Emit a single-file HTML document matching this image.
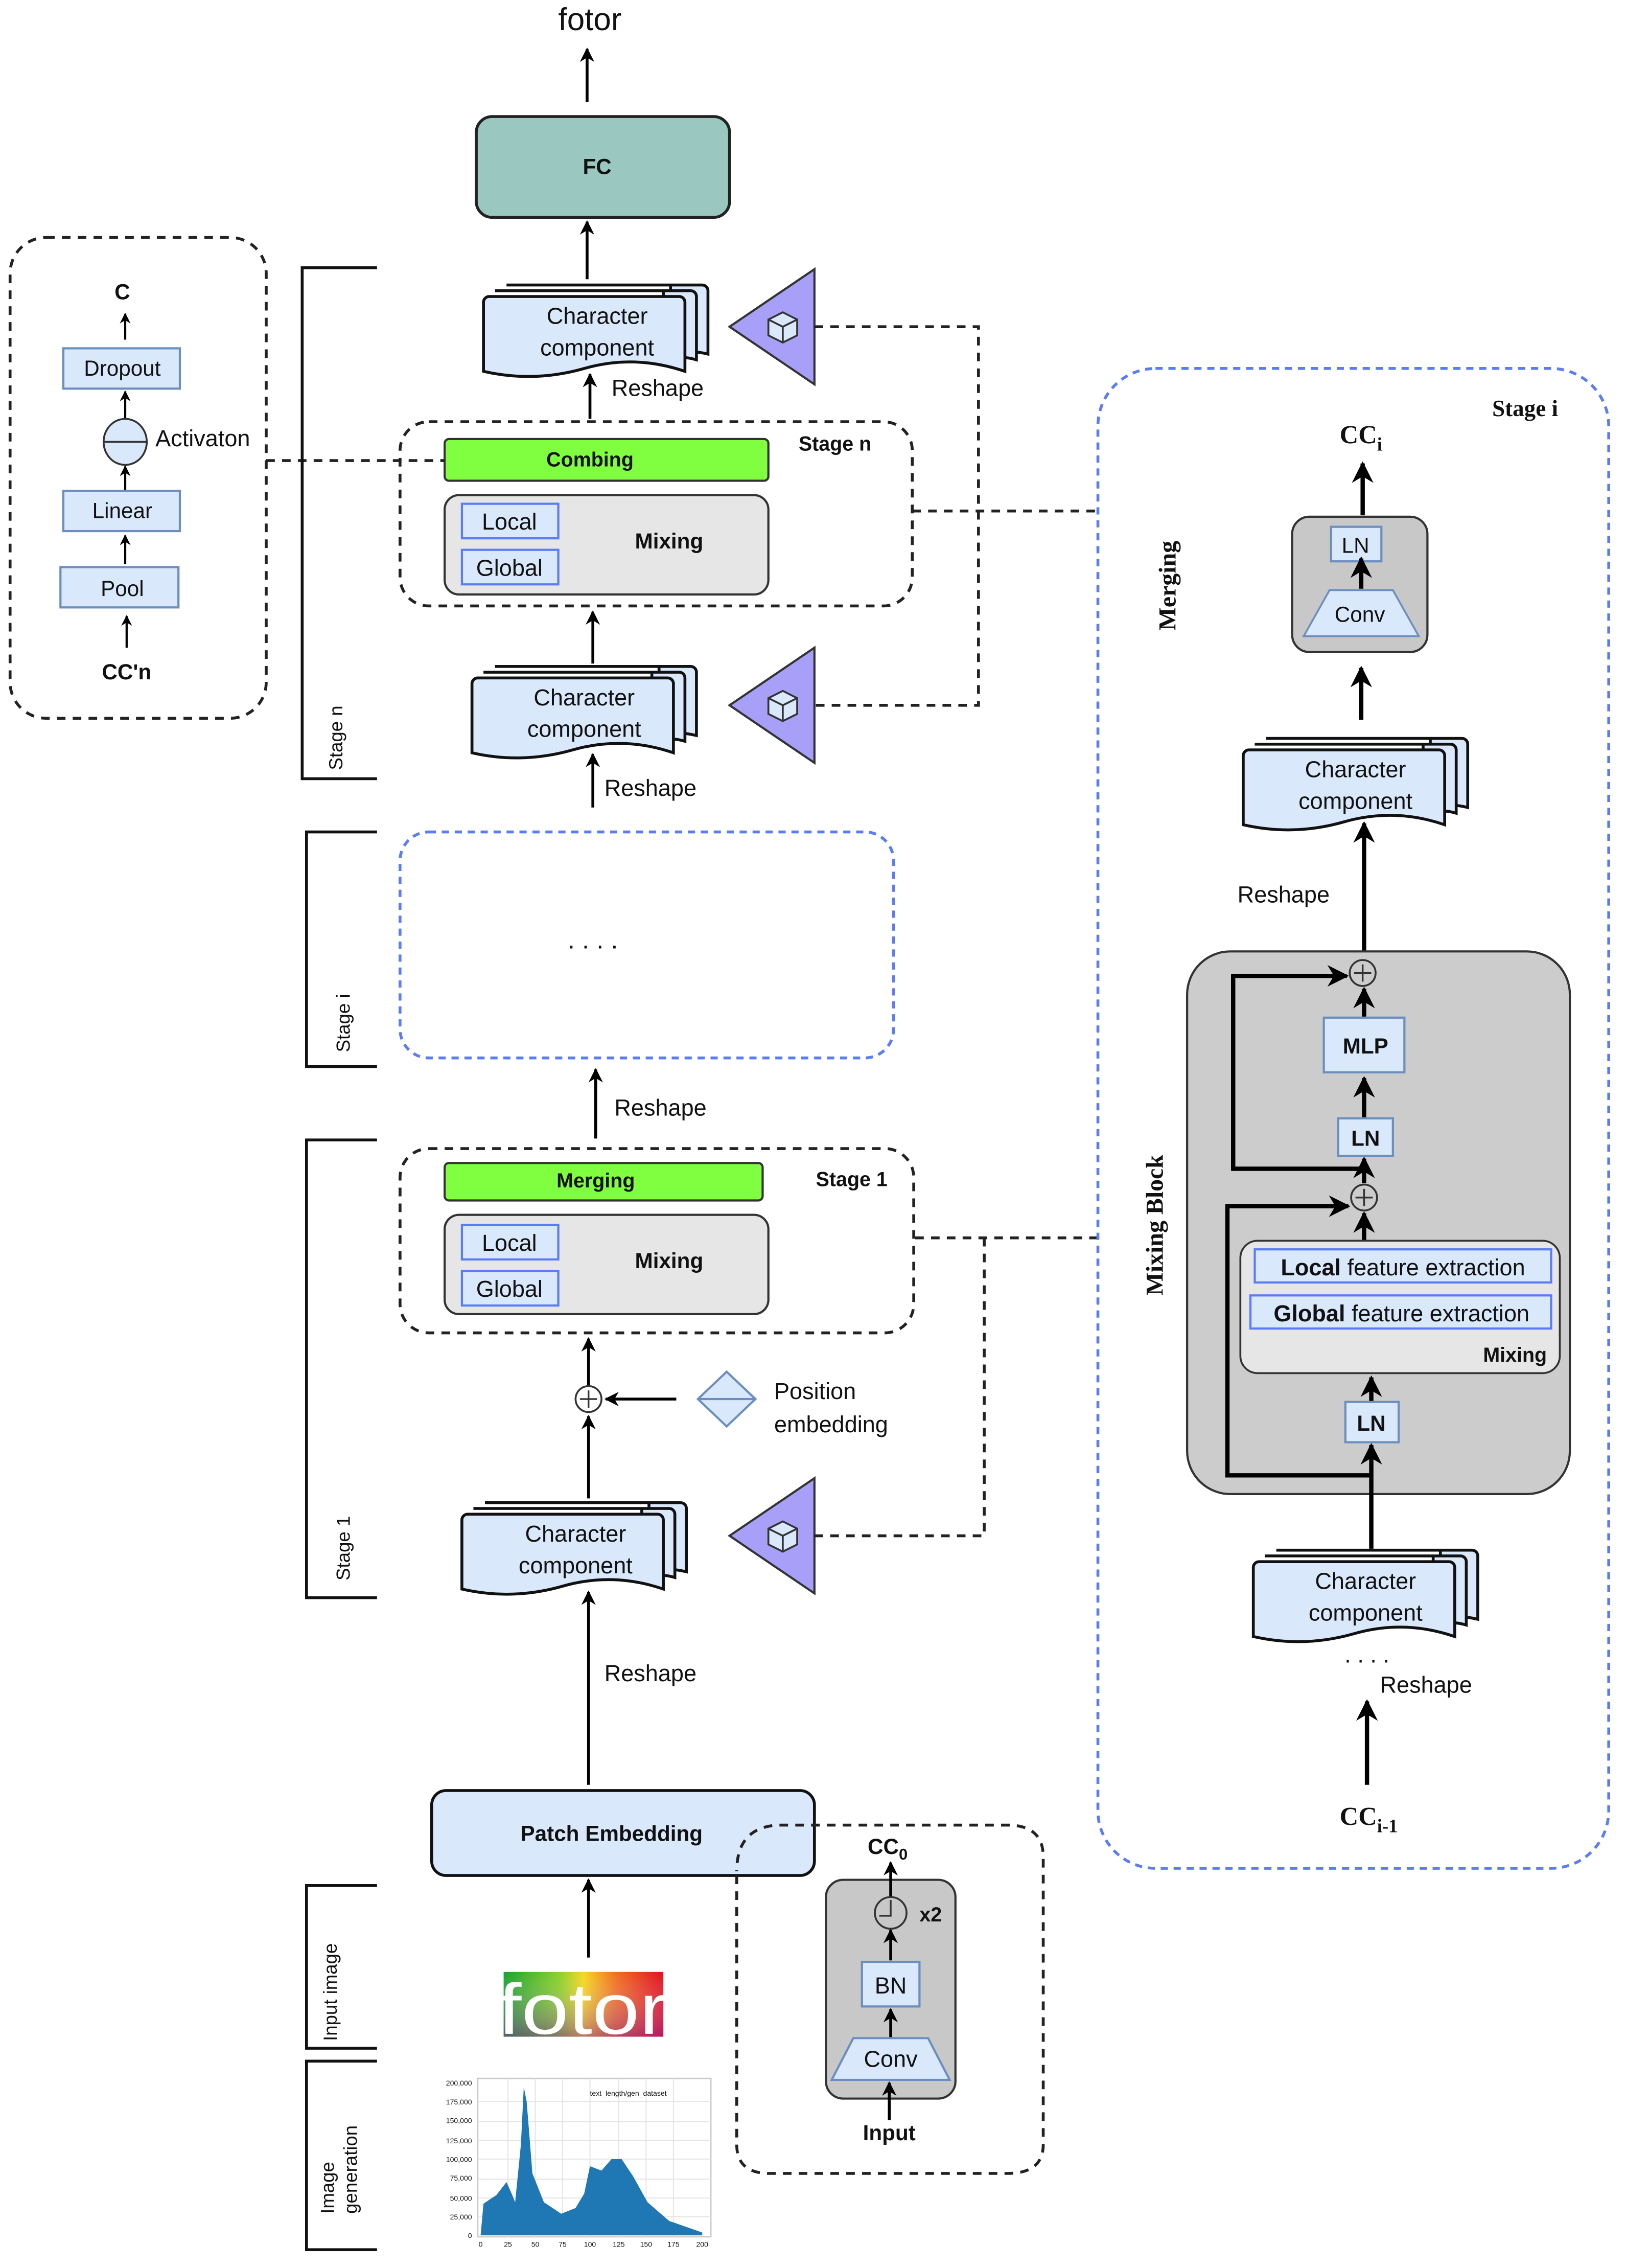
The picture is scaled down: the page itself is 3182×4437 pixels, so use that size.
<!DOCTYPE html>
<html><head><meta charset="utf-8"><style>
html,body{margin:0;padding:0;background:#fff}
svg{display:block}
text{font-family:"Liberation Sans",sans-serif;fill:#111}
.serif{font-family:"Liberation Serif",serif;font-weight:bold}
.b{font-weight:bold}
</style></head><body>
<svg width="3182" height="4437" viewBox="0 0 1130 1575.7" xmlns="http://www.w3.org/2000/svg">
<defs>
<marker id="ah" viewBox="0 0 10 10" refX="9" refY="5" markerWidth="5" markerHeight="5" orient="auto"><path d="M0,0 L10,5 L0,10 L3,5 Z" fill="#000"/></marker>
<g id="doc">
 <path d="M16,-8 H152 a4,4 0 0 1 4,4 V40 Q140,36 130,42 V-8 Z" fill="#dae8fc" stroke="#111" stroke-width="2"/>
 <path d="M8,-4 H144 a4,4 0 0 1 4,4 V44 Q135,40 125,46 V-4 Z" fill="#dae8fc" stroke="#111" stroke-width="2"/>
 <path d="M4,0 H136 a4,4 0 0 1 4,4 V52 Q105,40 70,50 T0,52 V4 a4,4 0 0 1 4,-4 Z" fill="#dae8fc" stroke="#111" stroke-width="2"/>
</g>
<g id="tri">
 <polygon points="0,0 59,-40 59,40" fill="#a8a0f8" stroke="#333" stroke-width="1.5"/>
 <polygon points="36,-7 46,-12 56,-7 56,4 46,9 36,4" fill="#dae8fc" stroke="#333" stroke-width="1.3" transform="translate(-9,2)"/>
 <path d="M27,-5 L37,0 L47,-5 M37,0 V11" fill="none" stroke="#333" stroke-width="1.3"/>
</g>
<linearGradient id="rb" x1="0" y1="0" x2="1" y2="0">
 <stop offset="0" stop-color="#1aa030"/><stop offset="0.35" stop-color="#8ad02a"/><stop offset="0.5" stop-color="#f5d820"/><stop offset="0.7" stop-color="#f07020"/><stop offset="1" stop-color="#e01020"/>
</linearGradient>
<linearGradient id="rb2" x1="0" y1="0" x2="0" y2="1">
 <stop offset="0" stop-color="#fff" stop-opacity="0"/><stop offset="1" stop-color="#8020a0" stop-opacity="0.5"/>
</linearGradient>
</defs>

<!-- top -->
<text x="410" y="21" font-size="22" text-anchor="middle">fotor</text>
<line x1="408" y1="71" x2="408" y2="34" stroke="#000" stroke-width="2" marker-end="url(#ah)"/>
<rect x="331" y="81" width="176" height="70" rx="11" fill="#9ac7bf" stroke="#222" stroke-width="2"/>
<text x="415" y="121" font-size="15" class="b" text-anchor="middle">FC</text>
<line x1="408" y1="194" x2="408" y2="154" stroke="#000" stroke-width="2" marker-end="url(#ah)"/>

<!-- char comp top -->
<use href="#doc" x="336" y="206"/>
<text x="415" y="225" font-size="16" text-anchor="middle">Character</text>
<text x="415" y="247" font-size="16" text-anchor="middle">component</text>
<use href="#tri" x="507" y="227"/>
<path d="M566,227 H680 V490 H566" fill="none" stroke="#222" stroke-width="2" stroke-dasharray="6,5"/>
<line x1="410" y1="291" x2="410" y2="260" stroke="#000" stroke-width="2" marker-end="url(#ah)"/>
<text x="425" y="275" font-size="16">Reshape</text>

<!-- stage n -->
<rect x="278" y="293" width="356" height="128" rx="20" fill="none" stroke="#222" stroke-width="2" stroke-dasharray="6,5"/>
<text x="555" y="313" font-size="14" class="b">Stage n</text>
<rect x="309" y="305" width="225" height="29" rx="3" fill="#80ff40" stroke="#333" stroke-width="1.5"/>
<text x="410" y="324" font-size="14" class="b" text-anchor="middle">Combing</text>
<rect x="309" y="344" width="225" height="69" rx="10" fill="#e6e6e6" stroke="#333" stroke-width="1.5"/>
<rect x="321" y="350" width="67" height="24" fill="#dae8fc" stroke="#5b7cf5" stroke-width="1.5"/>
<text x="354" y="368" font-size="16" text-anchor="middle">Local</text>
<rect x="321" y="382" width="67" height="24" fill="#dae8fc" stroke="#5b7cf5" stroke-width="1.5"/>
<text x="354" y="400" font-size="16" text-anchor="middle">Global</text>
<text x="465" y="381" font-size="15" class="b" text-anchor="middle">Mixing</text>
<path d="M185,320 H309" stroke="#222" stroke-width="2" stroke-dasharray="6,5"/>
<path d="M634,355 H765" stroke="#222" stroke-width="2" stroke-dasharray="6,5"/>

<line x1="412" y1="461" x2="412" y2="425" stroke="#000" stroke-width="2" marker-end="url(#ah)"/>
<use href="#doc" x="328" y="471"/>
<text x="406" y="490" font-size="16" text-anchor="middle">Character</text>
<text x="406" y="512" font-size="16" text-anchor="middle">component</text>
<use href="#tri" x="507" y="490"/>
<line x1="412" y1="561" x2="412" y2="524" stroke="#000" stroke-width="2" marker-end="url(#ah)"/>
<text x="420" y="553" font-size="16">Reshape</text>

<!-- brackets -->
<g fill="none" stroke="#111" stroke-width="2">
<path d="M262,186 H210 V541 H262"/>
<path d="M262,578 H213 V741 H262"/>
<path d="M262,792 H213 V1110 H262"/>
<path d="M262,1310 H213 V1423 H262"/>
<path d="M262,1432 H213 V1563 H262"/>
</g>
<text transform="translate(238,535) rotate(-90)" font-size="13">Stage n</text>
<text transform="translate(243,731) rotate(-90)" font-size="13">Stage i</text>
<text transform="translate(243,1098) rotate(-90)" font-size="13">Stage 1</text>
<text transform="translate(234,1418) rotate(-90)" font-size="13">Input image</text>
<text transform="translate(232,1538) rotate(-90)" font-size="13">Image</text>
<text transform="translate(248,1538) rotate(-90)" font-size="13">generation</text>

<!-- stage i -->
<rect x="278" y="578" width="343" height="157" rx="20" fill="none" stroke="#5b7cf5" stroke-width="2" stroke-dasharray="5,4"/>
<text x="412" y="659" font-size="18" text-anchor="middle">. . . .</text>
<line x1="414" y1="791" x2="414" y2="743" stroke="#000" stroke-width="2" marker-end="url(#ah)"/>
<text x="427" y="775" font-size="16">Reshape</text>

<!-- stage 1 -->
<rect x="278" y="798" width="357" height="128" rx="20" fill="none" stroke="#222" stroke-width="2" stroke-dasharray="6,5"/>
<text x="567" y="824" font-size="14" class="b">Stage 1</text>
<rect x="309" y="808" width="221" height="26" rx="3" fill="#80ff40" stroke="#333" stroke-width="1.5"/>
<text x="414" y="825" font-size="14" class="b" text-anchor="middle">Merging</text>
<rect x="309" y="844" width="225" height="69" rx="10" fill="#e6e6e6" stroke="#333" stroke-width="1.5"/>
<rect x="321" y="851" width="67" height="24" fill="#dae8fc" stroke="#5b7cf5" stroke-width="1.5"/>
<text x="354" y="869" font-size="16" text-anchor="middle">Local</text>
<rect x="321" y="883" width="67" height="24" fill="#dae8fc" stroke="#5b7cf5" stroke-width="1.5"/>
<text x="354" y="901" font-size="16" text-anchor="middle">Global</text>
<text x="465" y="881" font-size="15" class="b" text-anchor="middle">Mixing</text>
<path d="M636,860 H765" stroke="#222" stroke-width="2" stroke-dasharray="6,5"/>

<line x1="409" y1="963" x2="409" y2="930" stroke="#000" stroke-width="2" marker-end="url(#ah)"/>
<circle cx="409" cy="972" r="9" fill="#fff" stroke="#333" stroke-width="1.3"/>
<path d="M403,972 H415 M409,966 V978" stroke="#333" stroke-width="1.2"/>
<line x1="409" y1="1041" x2="409" y2="984" stroke="#000" stroke-width="2" marker-end="url(#ah)"/>
<line x1="470" y1="972" x2="421" y2="972" stroke="#000" stroke-width="2" marker-end="url(#ah)"/>
<polygon points="485,972 505,953 525,972 505,991" fill="#dae8fc" stroke="#6c8ebf" stroke-width="1.5"/>
<line x1="485" y1="972" x2="525" y2="972" stroke="#6c8ebf" stroke-width="1.5"/>
<text x="538" y="972" font-size="16">Position</text>
<text x="538" y="995" font-size="16">embedding</text>

<use href="#doc" x="321" y="1052"/>
<text x="400" y="1071" font-size="16" text-anchor="middle">Character</text>
<text x="400" y="1093" font-size="16" text-anchor="middle">component</text>
<use href="#tri" x="507" y="1067"/>
<path d="M566,1067 H684 V860" fill="none" stroke="#222" stroke-width="2" stroke-dasharray="6,5"/>
<line x1="409" y1="1240" x2="409" y2="1106" stroke="#000" stroke-width="2" marker-end="url(#ah)"/>
<text x="420" y="1168" font-size="16">Reshape</text>

<!-- patch embedding -->
<rect x="300" y="1244" width="266" height="59" rx="10" fill="#dae8fc" stroke="#111" stroke-width="2"/>
<text x="425" y="1279" font-size="15" class="b" text-anchor="middle">Patch Embedding</text>
<line x1="409" y1="1360" x2="409" y2="1306" stroke="#000" stroke-width="2" marker-end="url(#ah)"/>
<rect x="350" y="1370" width="111" height="45" fill="url(#rb)"/>
<rect x="350" y="1370" width="111" height="45" fill="url(#rb2)"/>
<text x="405" y="1413" font-size="50" text-anchor="middle" style="fill:#fff" textLength="118" lengthAdjust="spacingAndGlyphs">fotor</text>

<!-- histogram -->
<rect x="332" y="1444" width="162" height="110" fill="#fff" stroke="#ccc" stroke-width="1"/>
<g stroke="#e4e4e4" stroke-width="0.7">
<path d="M353,1444V1554M372,1444V1554M391,1444V1554M410,1444V1554M430,1444V1554M449,1444V1554M468,1444V1554"/>
<path d="M332,1460H494M332,1474H494M332,1487H494M332,1500H494M332,1514H494M332,1527H494M332,1540H494"/>
</g>
<path d="M334,1553 L336,1531 L345,1525 L352,1516 L356,1525 L358,1530 L362,1490 L364,1450 L366,1460 L370,1510 L378,1530 L390,1538 L400,1534 L406,1524 L410,1505 L418,1508 L425,1500 L432,1500 L440,1512 L450,1530 L465,1543 L488,1551 L488,1553 Z" fill="#1f77b4"/>
<g font-size="5" text-anchor="end">
<text x="328" y="1449">200,000</text><text x="328" y="1462">175,000</text><text x="328" y="1475">150,000</text><text x="328" y="1489">125,000</text><text x="328" y="1502">100,000</text><text x="328" y="1515">75,000</text><text x="328" y="1529">50,000</text><text x="328" y="1542">25,000</text><text x="328" y="1555">0</text>
</g>
<g font-size="5" text-anchor="middle">
<text x="334" y="1561">0</text><text x="353" y="1561">25</text><text x="372" y="1561">50</text><text x="391" y="1561">75</text><text x="410" y="1561">100</text><text x="430" y="1561">125</text><text x="449" y="1561">150</text><text x="468" y="1561">175</text><text x="488" y="1561">200</text>
</g>
<text x="410" y="1456" font-size="5">text_length/gen_dataset</text>

<!-- CC0 dashed box -->
<path d="M512,1303 V1490 Q512,1510 535,1510 H700 Q725,1510 725,1490 V1290 Q725,1268 700,1268 H540 Q512,1270 512,1300" fill="none" stroke="#222" stroke-width="2" stroke-dasharray="6,5"/>
<rect x="574" y="1306" width="90" height="152" rx="12" fill="#c8c8c8" stroke="#333" stroke-width="1.5"/>
<text x="603" y="1288" font-size="15" class="b">CC<tspan font-size="11" dy="4">0</tspan></text>
<line x1="619" y1="1318" x2="619" y2="1294" stroke="#000" stroke-width="2" marker-end="url(#ah)"/>
<circle cx="619" cy="1329" r="11" fill="none" stroke="#333" stroke-width="1.3"/>
<path d="M619,1320 V1331 H611" fill="none" stroke="#333" stroke-width="1.2"/>
<text x="639" y="1335" font-size="14" class="b">x2</text>
<line x1="619" y1="1362" x2="619" y2="1341" stroke="#000" stroke-width="2" marker-end="url(#ah)"/>
<rect x="599" y="1363" width="40" height="31" fill="#dae8fc" stroke="#6c8ebf" stroke-width="1.5"/>
<text x="619" y="1385" font-size="16" text-anchor="middle">BN</text>
<line x1="619" y1="1416" x2="619" y2="1396" stroke="#000" stroke-width="2" marker-end="url(#ah)"/>
<polygon points="578,1445 660,1445 645,1416 593,1416" fill="#dae8fc" stroke="#6c8ebf" stroke-width="1.5"/>
<text x="619" y="1436" font-size="16" text-anchor="middle">Conv</text>
<line x1="618" y1="1473" x2="618" y2="1447" stroke="#000" stroke-width="2" marker-end="url(#ah)"/>
<text x="618" y="1487" font-size="15" class="b" text-anchor="middle">Input</text>

<!-- left box -->
<rect x="7" y="165" width="178" height="334" rx="25" fill="none" stroke="#222" stroke-width="2" stroke-dasharray="6,5"/>
<text x="85" y="208" font-size="15" class="b" text-anchor="middle">C</text>
<line x1="87" y1="236" x2="87" y2="218" stroke="#000" stroke-width="1.5" marker-end="url(#ah)"/>
<rect x="44" y="242" width="81" height="28" fill="#dae8fc" stroke="#6c8ebf" stroke-width="1.5"/>
<text x="85" y="261" font-size="15" text-anchor="middle">Dropout</text>
<line x1="87" y1="292" x2="87" y2="272" stroke="#000" stroke-width="1.5" marker-end="url(#ah)"/>
<ellipse cx="87" cy="307" rx="15" ry="16" fill="#dae8fc" stroke="#333" stroke-width="1.3"/>
<line x1="72" y1="307" x2="102" y2="307" stroke="#333" stroke-width="1.3"/>
<text x="108" y="310" font-size="16">Activaton</text>
<line x1="87" y1="341" x2="87" y2="324" stroke="#000" stroke-width="1.5" marker-end="url(#ah)"/>
<rect x="44" y="341" width="81" height="28" fill="#dae8fc" stroke="#6c8ebf" stroke-width="1.5"/>
<text x="85" y="360" font-size="15" text-anchor="middle">Linear</text>
<line x1="87" y1="392" x2="87" y2="372" stroke="#000" stroke-width="1.5" marker-end="url(#ah)"/>
<rect x="42" y="394" width="82" height="28" fill="#dae8fc" stroke="#6c8ebf" stroke-width="1.5"/>
<text x="85" y="414" font-size="15" text-anchor="middle">Pool</text>
<line x1="88" y1="450" x2="88" y2="428" stroke="#000" stroke-width="1.5" marker-end="url(#ah)"/>
<text x="88" y="472" font-size="15" class="b" text-anchor="middle">CC'n</text>

<!-- right stage i -->
<rect x="763" y="256" width="355" height="1042" rx="40" fill="none" stroke="#5b7cf5" stroke-width="2" stroke-dasharray="5,4"/>
<text x="1037" y="289" font-size="16" class="serif">Stage i</text>
<text x="931" y="308" font-size="18" class="serif">CC<tspan font-size="13" dy="5">i</tspan></text>
<line x1="947" y1="358" x2="947" y2="322" stroke="#000" stroke-width="3" marker-end="url(#ah)"/>
<rect x="898" y="359" width="94" height="94" rx="12" fill="#c8c8c8" stroke="#333" stroke-width="1.5"/>
<rect x="925" y="366" width="35" height="24" fill="#dae8fc" stroke="#6c8ebf" stroke-width="1.5"/>
<text x="942" y="384" font-size="15" text-anchor="middle">LN</text>
<polygon points="906,442 986,442 968,410 924,410" fill="#dae8fc" stroke="#6c8ebf" stroke-width="1.3"/>
<text x="945" y="432" font-size="15" text-anchor="middle">Conv</text>
<line x1="946" y1="409" x2="946" y2="388" stroke="#000" stroke-width="3" marker-end="url(#ah)"/>
<text transform="translate(817,438) rotate(-90)" font-size="17" class="serif">Merging</text>
<line x1="946" y1="500" x2="946" y2="464" stroke="#000" stroke-width="3" marker-end="url(#ah)"/>
<use href="#doc" x="864" y="521"/>
<text x="942" y="540" font-size="16" text-anchor="middle">Character</text>
<text x="942" y="562" font-size="16" text-anchor="middle">component</text>
<line x1="948" y1="661" x2="948" y2="572" stroke="#000" stroke-width="3" marker-end="url(#ah)"/>
<text x="860" y="627" font-size="16">Reshape</text>

<!-- mixing block -->
<rect x="825" y="661" width="266" height="377" rx="30" fill="#cccccc" stroke="#333" stroke-width="1.5"/>
<text transform="translate(808,900) rotate(-90)" font-size="17" class="serif">Mixing Block</text>
<circle cx="947" cy="676" r="9" fill="none" stroke="#333" stroke-width="1.3"/>
<path d="M941,676 H953 M947,670 V682" stroke="#333" stroke-width="1.2"/>
<line x1="948" y1="707" x2="948" y2="687" stroke="#000" stroke-width="3" marker-end="url(#ah)"/>
<rect x="920" y="707" width="56" height="38" fill="#dae8fc" stroke="#6c8ebf" stroke-width="1.5"/>
<text x="949" y="732" font-size="15" class="b" text-anchor="middle">MLP</text>
<line x1="948" y1="777" x2="948" y2="749" stroke="#000" stroke-width="3" marker-end="url(#ah)"/>
<rect x="930" y="777" width="38" height="26" fill="#dae8fc" stroke="#6c8ebf" stroke-width="1.5"/>
<text x="949" y="796" font-size="15" class="b" text-anchor="middle">LN</text>
<line x1="948" y1="822" x2="948" y2="805" stroke="#000" stroke-width="3" marker-end="url(#ah)"/>
<circle cx="948" cy="832" r="9" fill="none" stroke="#333" stroke-width="1.3"/>
<path d="M942,832 H954 M948,826 V838" stroke="#333" stroke-width="1.2"/>
<line x1="948" y1="862" x2="948" y2="843" stroke="#000" stroke-width="3" marker-end="url(#ah)"/>
<path d="M946,812 H857 V678 H936" fill="none" stroke="#000" stroke-width="3" marker-end="url(#ah)"/>
<path d="M953,1025 H853 V838 H937" fill="none" stroke="#000" stroke-width="3" marker-end="url(#ah)"/>
<rect x="862" y="862" width="222" height="92" rx="12" fill="#e6e6e6" stroke="#333" stroke-width="1.3"/>
<rect x="872" y="868" width="206" height="23" fill="#dae8fc" stroke="#5b7cf5" stroke-width="1.5"/>
<text x="975" y="886" font-size="16" text-anchor="middle"><tspan class="b">Local</tspan> feature extraction</text>
<rect x="869" y="900" width="209" height="23" fill="#dae8fc" stroke="#5b7cf5" stroke-width="1.5"/>
<text x="974" y="918" font-size="16" text-anchor="middle"><tspan class="b">Global</tspan> feature extraction</text>
<text x="1075" y="946" font-size="14" class="b" text-anchor="end">Mixing</text>
<line x1="953" y1="974" x2="953" y2="957" stroke="#000" stroke-width="3" marker-end="url(#ah)"/>
<rect x="935" y="974" width="37" height="28" fill="#dae8fc" stroke="#6c8ebf" stroke-width="1.5"/>
<text x="953" y="994" font-size="15" class="b" text-anchor="middle">LN</text>
<line x1="953" y1="1076" x2="953" y2="1004" stroke="#000" stroke-width="3" marker-end="url(#ah)"/>

<use href="#doc" x="871" y="1085"/>
<text x="949" y="1104" font-size="16" text-anchor="middle">Character</text>
<text x="949" y="1126" font-size="16" text-anchor="middle">component</text>
<text x="950" y="1155" font-size="16" text-anchor="middle">. . . .</text>
<text x="959" y="1176" font-size="16">Reshape</text>
<line x1="950" y1="1240" x2="950" y2="1182" stroke="#000" stroke-width="3" marker-end="url(#ah)"/>
<text x="931" y="1268" font-size="18" class="serif">CC<tspan font-size="13" dy="5">i-1</tspan></text>
</svg>
</body></html>
